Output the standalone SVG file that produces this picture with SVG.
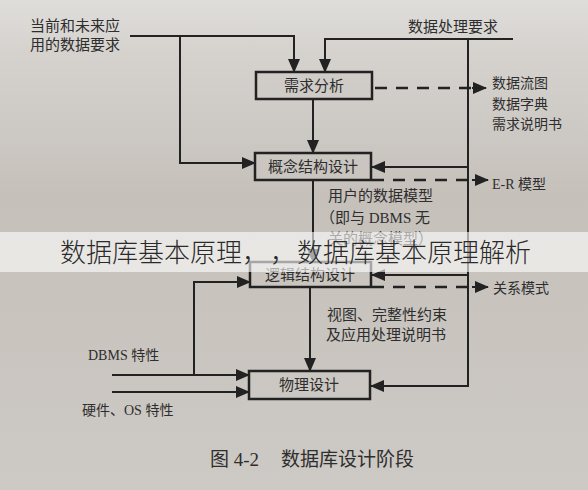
<svg xmlns="http://www.w3.org/2000/svg" width="588" height="490" viewBox="0 0 588 490">
<defs>
<linearGradient id="bg" x1="0" y1="0" x2="0" y2="1">
<stop offset="0" stop-color="#dfddda"/>
<stop offset="0.1" stop-color="#d6d3cf"/>
<stop offset="0.4" stop-color="#c5c0ba"/>
<stop offset="1" stop-color="#cdc9c4"/>
</linearGradient>
<marker id="ah" markerUnits="userSpaceOnUse" markerWidth="14" markerHeight="12" refX="13" refY="6" orient="auto">
<path d="M0,0 L14,6 L0,12 Z" fill="#222"/>
</marker>
<style>
.ln{fill:none;stroke:#222;stroke-width:2}
.ds{fill:none;stroke:#222;stroke-width:2.5;stroke-dasharray:12 9}
.bx{fill:#ccc8c3;fill-opacity:0.4;stroke:#222;stroke-width:2.5}
.t{font-family:"Liberation Serif","Noto Sans CJK SC",serif;font-size:14px;fill:#2e2e2e}
.bt{font-family:"Liberation Serif","Noto Sans CJK SC",serif;font-size:15px;fill:#2e2e2e;text-anchor:middle}
.cap{font-family:"Liberation Serif","Noto Sans CJK SC",serif;font-size:19px;fill:#2e2e2e}
.wm{font-family:"Noto Sans CJK SC",sans-serif;font-size:26px;font-weight:300;fill:#2a2a2a}
</style>
</defs>
<rect width="588" height="490" fill="url(#bg)"/>
<g id="connectors">
<path class="ln" d="M130,36 H294 V72" marker-end="url(#ah)"/>
<path class="ln" d="M180,36 V163 H255" marker-end="url(#ah)"/>
<path class="ln" d="M513,39 H325 V72" marker-end="url(#ah)"/>
<path class="ln" d="M468,39 V386 H371" marker-end="url(#ah)"/>
<path class="ln" d="M468,167 H372" marker-end="url(#ah)"/>
<path class="ln" d="M468,275 H372" marker-end="url(#ah)"/>
<path class="ln" d="M313,99 V153" marker-end="url(#ah)"/>
<path class="ln" d="M313,180 V262" marker-end="url(#ah)"/>
<path class="ln" d="M310,287 V371" marker-end="url(#ah)"/>
<path class="ln" d="M194,375 V282 H250" marker-end="url(#ah)"/>
<path class="ln" d="M112,375 H249" marker-end="url(#ah)"/>
<path class="ln" d="M112,392 H249" marker-end="url(#ah)"/>
<path class="ds" d="M375,88 H472"/>
<path class="ln" d="M472,88 H486" marker-end="url(#ah)"/>
<path class="ds" d="M372,180 H472"/>
<path class="ln" d="M472,180 H488" marker-end="url(#ah)"/>
<path class="ds" d="M372,287 H472"/>
<path class="ln" d="M472,287 H488" marker-end="url(#ah)"/>
</g>
<g id="n_req">
<rect class="bx" x="256" y="72" width="116" height="27"/>
<text class="bt" x="314" y="91">需求分析</text>
</g>
<g id="n_concept">
<rect class="bx" x="255" y="153" width="116" height="27"/>
<text class="bt" x="313" y="172">概念结构设计</text>
</g>
<g id="n_logic">
<rect class="bx" x="250" y="262" width="121" height="25"/>
<text class="bt" x="310" y="280">逻辑结构设计</text>
</g>
<g id="n_phys">
<rect class="bx" x="249" y="371" width="121" height="28"/>
<text class="bt" x="309" y="390">物理设计</text>
</g>
<g id="labels">
<text class="t" x="30" y="31" style="font-size:15px">当前和未来应</text>
<text class="t" x="30" y="50" style="font-size:15px">用的数据要求</text>
<text class="t" x="408" y="32" style="font-size:15px">数据处理要求</text>
<text class="t" x="492" y="88">数据流图</text>
<text class="t" x="492" y="109">数据字典</text>
<text class="t" x="492" y="129">需求说明书</text>
<text class="t" x="492" y="189">E-R 模型</text>
<text class="t" x="328" y="201" style="font-size:15px">用户的数据模型</text>
<text class="t" x="320" y="223" style="font-size:15px">（即与 DBMS 无</text>
<text class="t" x="328" y="244" style="font-size:15px">关的概念模型）</text>
<text class="t" x="493" y="293">关系模式</text>
<text class="t" x="327" y="320" style="font-size:15px">视图、完整性约束</text>
<text class="t" x="326" y="340" style="font-size:15px">及应用处理说明书</text>
<text class="t" x="88" y="360">DBMS 特性</text>
<text class="t" x="82" y="415">硬件、OS 特性</text>
<text class="cap" x="210" y="466">图 4-2</text>
<text class="cap" x="281" y="466">数据库设计阶段</text>
</g>
<g id="watermark">
<rect x="0" y="232" width="588" height="40" fill="#ffffff" fill-opacity="0.6"/>
<text class="wm" x="60" y="262">数据库基本原理，<tspan x="270">，</tspan><tspan x="297">数据库基本原理解析</tspan></text>
</g>
</svg>
